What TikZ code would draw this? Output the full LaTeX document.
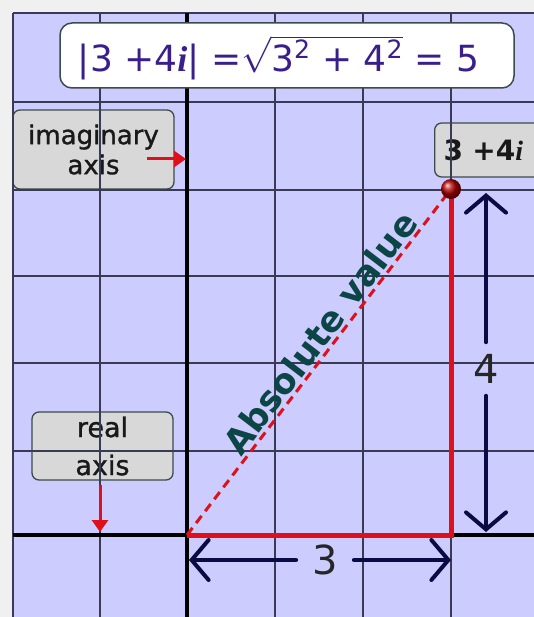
\documentclass[tikz,border=0pt]{standalone}
\usepackage{fontspec}
\usepackage{amsmath}
\usepackage{unicode-math}
\setmainfont{DejaVu Sans}
\setmathfont{Latin Modern Math}
\newfontfamily\serifit{Liberation Serif}
\newfontfamily\lblfont[FakeBold=1.2]{DejaVu Sans}
\usetikzlibrary{arrows.meta}
\definecolor{bgpage}{HTML}{F0F0F0}
\definecolor{lav}{HTML}{CCCCFF}
\definecolor{gridc}{HTML}{3A3A55}
\definecolor{boxg}{HTML}{D8D8D8}
\definecolor{boxb}{HTML}{3C4C4C}
\definecolor{titlec}{HTML}{3A1F8C}
\definecolor{navy}{HTML}{0A0A45}
\definecolor{absteal}{HTML}{0B4545}
\definecolor{redl}{HTML}{E0101A}
\begin{document}
\begin{tikzpicture}[x=1pt,y=-1pt,
  lbl/.style={draw=boxb, fill=boxg, rounded corners=7, line width=1.3, align=center, text=black!90},
  gridline/.style={draw=gridc, line width=1.3},
  axisline/.style={draw=black, line width=4.5},
  side/.style={draw=redl, line width=5},
  hyp/.style={draw=redl, line width=3, dash pattern=on 9pt off 6pt},
  dimarrow/.style={draw=navy, line width=4, line cap=round, -{Straight Barb[length=17pt,width=40pt,line cap=round]}},
  pointer/.style={draw=redl, line width=3, -{Triangle[length=12pt,width=16pt]}},
  dimlbl/.style={font=\fontsize{40}{44}\selectfont, text=black!85}
]
\useasboundingbox (0,0) rectangle (534,617);
\fill[bgpage] (0,0) rectangle (534,617);
\fill[lav] (13,13) rectangle (534,617);
% label boxes (under grid)
\node[lbl, minimum width=161, minimum height=79, font=\lblfont\fontsize{26}{30}\selectfont] (imag) at (93.5,149.5) {imaginary\\axis};
\node[lbl, minimum width=141, minimum height=68, font=\lblfont\fontsize{27}{38}\selectfont] (real) at (102.5,446) {real\\axis};
\node[lbl, anchor=west, minimum height=54, text width=100, inner xsep=9, align=left, font=\fontsize{28}{30}\selectfont\bfseries] (ptlbl) at (434,150) {3 +4{\serifit\bfseries\itshape i}};
% grid
\foreach \gx in {13,100,187,275,363,451} \draw[gridline] (\gx,13) -- (\gx,617);
\foreach \gy in {13,102,190,276,363,451,535} \draw[gridline] (13,\gy) -- (534,\gy);
% axes
\draw[axisline] (187,13) -- (187,617);
\draw[axisline] (13,535) -- (534,535);
% triangle
\coordinate (O) at (187,535);
\coordinate (X) at (451,535);
\coordinate (Pc) at (451,189);
\draw[side] (O) -- (X) -- (Pc);
\draw[hyp] (O) -- node[sloped, anchor=south, pos=0.555, inner sep=2, text=absteal, font=\bfseries\fontsize{35}{40}\selectfont] (absval) {Absolute value} (Pc);
\node[circle, minimum size=20, inner sep=0, ball color=red!70!black] (P) at (Pc) {};
% title
\node[draw=boxb, fill=white, rounded corners=12, line width=1.5, minimum width=454, minimum height=65] (titlebox) at (287,55.5) {};
\node[anchor=base, text=titlec, font=\fontsize{36}{40}\selectfont, inner sep=0] (title) at (278.5,72) {|3 +4{\serifit\bfseries\itshape i}| =$\sqrt{\text{3\textsuperscript{2} + 4\textsuperscript{2}}}$ = 5};
% dimension arrows
\node[dimlbl, inner xsep=16, inner ysep=0] (n3) at (325,560) {3};
\coordinate (d3l) at (189,560);
\coordinate (d3r) at (451,560);
\draw[dimarrow] (n3.west) -- (d3l);
\draw[dimarrow] (n3.east) -- (d3r);
\node[dimlbl, inner xsep=0, inner ysep=12] (n4) at (486,369) {4};
\coordinate (d4t) at (486,193);
\coordinate (d4b) at (486,532);
\draw[dimarrow] (n4.north) -- (d4t);
\draw[dimarrow] (n4.south) -- (d4b);
% pointers
\coordinate (ia) at (147,159);
\coordinate (ib) at (186,159);
\draw[pointer] (ia) -- (ib);
\coordinate (ra) at (100,485);
\coordinate (rb) at (100,532);
\draw[pointer] (ra) -- (rb);
\end{tikzpicture}
\end{document}
